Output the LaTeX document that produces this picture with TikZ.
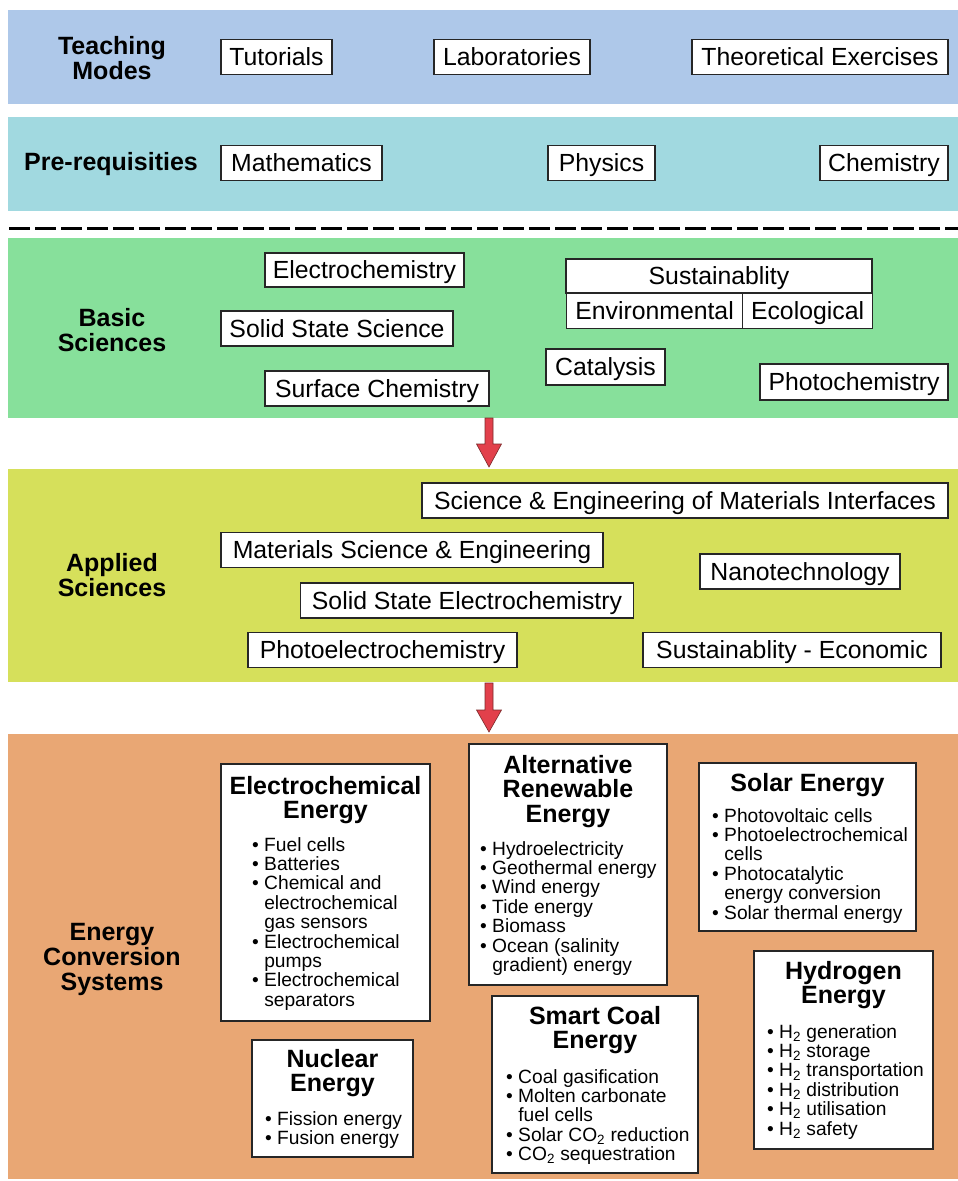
\documentclass[tikz,border=0pt]{standalone}
\usepackage{fontspec}
\setmainfont{Liberation Sans}
\usetikzlibrary{calc}
\definecolor{bandblue}{HTML}{AEC8E9}
\definecolor{bandteal}{HTML}{A1D9E0}
\definecolor{bandgreen}{HTML}{87E09B}
\definecolor{bandyellow}{HTML}{D6E05B}
\definecolor{bandorange}{HTML}{E9A774}
\definecolor{arrred}{HTML}{E2404B}
\definecolor{arrdark}{HTML}{7A2A2A}
\begin{document}
\begin{tikzpicture}[x=1pt,y=-1pt,
  band/.style={draw=none, inner sep=0, minimum width=950pt},
  lbl/.style={font=\fontsize{25}{25}\selectfont\bfseries, align=center, inner sep=0},
  tbox/.style={draw=black!85, line width=1.1pt, fill=white, font=\fontsize{24.8}{25}\selectfont, inner sep=0, minimum height=35pt, text height=20pt, text depth=3pt},
  ebox/.style={draw=black!85, line width=1.1pt, fill=white, inner sep=0},
  etitle/.style={font=\fontsize{25}{24.5}\selectfont\bfseries, align=center, inner sep=0, anchor=north},
  elist/.style={font=\fontsize{19.2}{19.4}\selectfont, align=left, inner sep=0, anchor=north west},
  redarrow/.style={fill=arrred, draw=arrdark, line width=0.6pt, line join=miter},
  sep/.style={line width=3pt, dash pattern=on 21pt off 5pt}
]
\useasboundingbox (0,0) rectangle (958,1181);

% bands
\node[band, fill=bandblue, minimum height=94pt] (bandT) at (483,57) {};
\node[band, fill=bandteal, minimum height=94pt] (bandP) at (483,164) {};
\node[band, fill=bandgreen, minimum height=180pt] (bandB) at (483,328) {};
\node[band, fill=bandyellow, minimum height=213pt] (bandA) at (483,575.5) {};
\node[band, fill=bandorange, minimum height=445pt] (bandE) at (483,956.5) {};

% separator
\coordinate (sepL) at (9,228);
\coordinate (sepR) at (958,228);
\draw[sep] (sepL) -- (sepR);

% labels
\node[lbl] (lT) at (112,58) {Teaching\\Modes};
\node[lbl] (lP) at (111,164) {Pre-requisities};
\node[lbl] (lB) at (112,330) {Basic\\Sciences};
\node[lbl] (lA) at (112,575) {Applied\\Sciences};
\node[lbl] (lE) at (112,959) {Energy\\Conversion\\Systems};

% teaching modes
\node[tbox, minimum width=111pt] (tut) at (276.5,57) {Tutorials};
\node[tbox, minimum width=156pt] (lab) at (512,57) {Laboratories};
\node[tbox, minimum width=256pt] (the) at (820,57) {Theoretical Exercises};

% prerequisites
\node[tbox, minimum width=161pt] (mat) at (301.5,163) {Mathematics};
\node[tbox, minimum width=107pt] (phy) at (601.5,163) {Physics};
\node[tbox, minimum width=128pt] (che) at (884,163) {Chemistry};

% basic sciences
\node[tbox, minimum width=199pt, minimum height=34pt] (elc) at (364.5,270) {Electrochemistry};
\node[tbox, minimum width=232pt] (sss) at (337,328.5) {Solid State Science};
\node[tbox, minimum width=119pt, minimum height=36pt] (cat) at (605.5,367) {Catalysis};
\node[tbox, minimum width=224pt] (sur) at (377,388.5) {Surface Chemistry};
\node[tbox, minimum width=188pt, minimum height=36pt] (pho) at (854,382) {Photochemistry};
\node[tbox, minimum width=306pt, minimum height=34pt] (sus) at (719,276) {Sustainablity};
\node[tbox, minimum width=176pt, minimum height=35pt, anchor=north west] (env) at (566,293) {Environmental};
\node[tbox, minimum width=130pt, minimum height=35pt, anchor=north west] (eco) at (742,293) {Ecological};

% applied sciences
\node[tbox, minimum width=526pt] (sem) at (685,500.5) {Science \& Engineering of Materials Interfaces};
\node[tbox, minimum width=382pt] (mse) at (412,550) {Materials Science \& Engineering};
\node[tbox, minimum width=200pt] (nan) at (800,571.5) {Nanotechnology};
\node[tbox, minimum width=333pt] (sse) at (467,600.5) {Solid State Electrochemistry};
\node[tbox, minimum width=269pt] (pec) at (382.5,650) {Photoelectrochemistry};
\node[tbox, minimum width=298pt] (sec) at (792,650) {Sustainablity - Economic};

% arrows
\coordinate (a1s) at (489,418);
\coordinate (a2s) at (489,683);
\draw[redarrow] ($(a1s)+(-4,0)$) -- ($(a1s)+(4,0)$) -- ($(a1s)+(4,26)$) -- ($(a1s)+(12.5,26)$) -- ($(a1s)+(0,49)$) -- ($(a1s)+(-12.5,26)$) -- ($(a1s)+(-4,26)$) -- cycle;
\draw[redarrow] ($(a2s)+(-4,0)$) -- ($(a2s)+(4,0)$) -- ($(a2s)+(4,27)$) -- ($(a2s)+(12.5,27)$) -- ($(a2s)+(0,49)$) -- ($(a2s)+(-12.5,27)$) -- ($(a2s)+(-4,27)$) -- cycle;

% energy boxes
\node[ebox, minimum width=209pt, minimum height=257pt] (ec) at (325.5,892.5) {};
\node[ebox, minimum width=198pt, minimum height=241pt] (ar) at (568,864.5) {};
\node[ebox, minimum width=217pt, minimum height=168pt] (so) at (807.5,847) {};
\node[ebox, minimum width=179pt, minimum height=198pt] (hy) at (843.5,1050) {};
\node[ebox, minimum width=206pt, minimum height=177pt] (sc) at (595,1084.5) {};
\node[ebox, minimum width=161pt, minimum height=117pt] (nu) at (332.5,1098.5) {};

\node[etitle] (ecT) at (325.5,776) {Electrochemical\\Energy};
\node[etitle] (arT) at (568,755) {Alternative\\Renewable\\Energy};
\node[etitle] (soT) at (807.5,773) {Solar Energy};
\node[etitle] (hyT) at (843.5,961) {Hydrogen\\Energy};
\node[etitle] (scT) at (595,1006) {Smart Coal\\Energy};
\node[etitle] (nuT) at (332.5,1049) {Nuclear\\Energy};

\node[elist] (ecL) at (252,837) {• Fuel cells\\• Batteries\\• Chemical and\\\hphantom{• }electrochemical\\\hphantom{• }gas sensors\\• Electrochemical\\\hphantom{• }pumps\\• Electrochemical\\\hphantom{• }separators};
\node[elist] (arL) at (480,841) {• Hydroelectricity\\• Geothermal energy\\• Wind energy\\• Tide energy\\• Biomass\\• Ocean (salinity\\\hphantom{• }gradient) energy};
\node[elist] (soL) at (712,808) {• Photovoltaic cells\\• Photoelectrochemical\\\hphantom{• }cells\\• Photocatalytic\\\hphantom{• }energy conversion\\• Solar thermal energy};
\node[elist] (hyL) at (767,1024) {• H\textsubscript{2} generation\\• H\textsubscript{2} storage\\• H\textsubscript{2} transportation\\• H\textsubscript{2} distribution\\• H\textsubscript{2} utilisation\\• H\textsubscript{2} safety};
\node[elist] (scL) at (506,1069) {• Coal gasification\\• Molten carbonate\\\hphantom{• }fuel cells\\• Solar CO\textsubscript{2} reduction\\• CO\textsubscript{2} sequestration};
\node[elist] (nuL) at (265,1111) {• Fission energy\\• Fusion energy};
\end{tikzpicture}
\end{document}
